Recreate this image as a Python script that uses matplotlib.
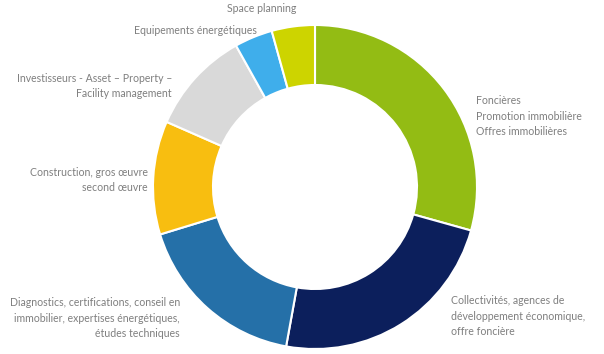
import matplotlib.pyplot as plt
import numpy as np

# donnees (ordre horaire depuis midi)
secteurs = ['Foncières\nPromotion immobilière\nOffres immobilières',
            'Collectivités, agences de\ndéveloppement économique,\noffre foncière',
            'Diagnostics, certifications, conseil en\nimmobilier, expertises énergétiques,\nétudes techniques',
            'Construction, gros œuvre\nsecond œuvre',
            'Investisseurs - Asset – Property –\nFacility management',
            'Equipements énergétiques',
            'Space planning']
parts = [29.3, 23.5, 17.4, 11.3, 10.3, 3.8, 4.3]
couleurs = ['#93BC14', '#0C1F5C', '#2570A8', '#F8BE10', '#D9D9D9', '#3FAEEB', '#CDD400']

W, H = 604, 354
cx, cy, R = 315, H - 187, 162

fig = plt.figure(figsize=(W / 100, H / 100), dpi=100)
ax = fig.add_axes([0, 0, 1, 1])
ax.pie(parts, colors=couleurs, startangle=90, counterclock=False,
       center=(cx, cy), radius=R,
       wedgeprops=dict(width=60, edgecolor='white', linewidth=1.5))
ax.set_xlim(0, W)
ax.set_ylim(0, H)
ax.set_aspect('equal')
ax.axis('off')

# position des etiquettes (pixels, haut-gauche = 0,0)
pos = [(476, 116, 'left'), (451, 316, 'left'), (180, 318, 'right'),
       (148, 180, 'right'), (172, 86, 'right'), (257, 31, 'right'),
       (296, 9, 'right')]
for txt, (x, y, ha) in zip(secteurs, pos):
    ax.text(x, H - y, txt, ha=ha, va='center', ma=ha, fontsize=7.6,
            color='#7F7F7F', family=['Lato', 'DejaVu Sans'], linespacing=1.45)

fig.savefig('out.png', dpi=100)
